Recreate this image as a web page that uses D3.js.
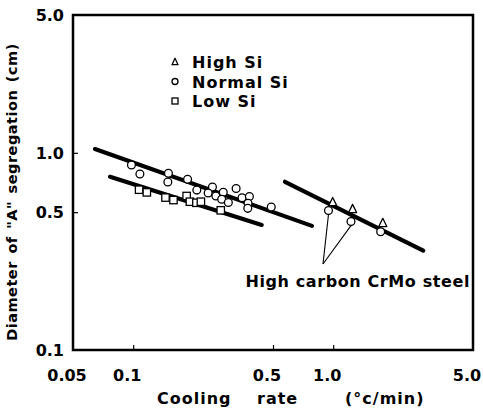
<!DOCTYPE html>
<html>
<head>
<meta charset="utf-8">
<script src="https://cdn.jsdelivr.net/npm/d3@7"></script>
<style>
  html, body { margin: 0; padding: 0; background: #fff; }
  text { font-family: "DejaVu Sans", sans-serif; font-weight: bold; fill: #000; }
</style>
</head>
<body>
<svg id="chart" width="483" height="409"></svg>
<script>
// Cooling rate (°C/min) vs diameter of "A" segregation (cm)
const normalSiX = [0.098, 0.108, 0.150, 0.149, 0.187, 0.208, 0.249, 0.237, 0.259, 0.282, 0.277, 0.299, 0.327, 0.350, 0.381, 0.375, 0.374, 0.49];
const normalSiY = [0.867, 0.781, 0.787, 0.711, 0.735, 0.647, 0.671, 0.625, 0.604, 0.631, 0.581, 0.560, 0.659, 0.592, 0.600, 0.555, 0.523, 0.531];
const lowSiX = [0.107, 0.117, 0.145, 0.159, 0.185, 0.192, 0.207, 0.218, 0.274];
const lowSiY = [0.650, 0.630, 0.593, 0.576, 0.604, 0.565, 0.558, 0.565, 0.511];
// High carbon CrMo steel
const crmoNormalX = [0.947, 1.227, 1.727];
const crmoNormalY = [0.510, 0.448, 0.398];
const crmoHighX = [0.994, 1.25, 1.77];
const crmoHighY = [0.563, 0.519, 0.441];

// Fitted trend lines, start and end points
const normalFitX = [0.0644, 0.783];
const normalFitY = [1.045, 0.426];
const lowFitX = [0.0766, 0.439];
const lowFitY = [0.757, 0.431];
const crmoFitX = [0.574, 2.82];
const crmoFitY = [0.713, 0.319];

const xTicks = [0.1, 0.5, 1.0];
const xTickLabels = ["0.05", "0.1", "0.5", "1.0", "5.0"];
const xTickLabelValues = [0.05, 0.1, 0.5, 1.0, 5.0];
const yTicks = [0.5, 1.0];
const yTickLabels = ["0.1", "0.5", "1.0", "5.0"];
const yTickLabelValues = [0.1, 0.5, 1.0, 5.0];

const legendLabels = ["High Si", "Normal Si", "Low Si"];
const legendShapes = ["triangle", "circle", "square"];

const svg = d3.select("#chart");
const margin = { left: 73, right: 10, top: 15, bottom: 59 };
const W = 483, H = 409;

const x = d3.scaleLog().domain([0.05, 5]).range([margin.left, W - margin.right]);
const y = d3.scaleLog().domain([0.1, 5]).range([H - margin.bottom, margin.top]);

// Frame
svg.append("rect")
  .attr("x", x(0.05)).attr("y", y(5))
  .attr("width", x(5) - x(0.05)).attr("height", y(0.1) - y(5))
  .attr("fill", "none").attr("stroke", "#000").attr("stroke-width", 2.5);

// Inward ticks
const xAxis = d3.axisBottom(x).tickValues(xTicks).tickSize(-5).tickFormat("");
svg.append("g").attr("transform", `translate(0,${y(0.1)})`).call(xAxis)
  .call(g => { g.select(".domain").remove(); g.selectAll("line").attr("stroke-width", 1.2); });
const yAxis = d3.axisLeft(y).tickValues(yTicks).tickSize(-5).tickFormat("");
svg.append("g").attr("transform", `translate(${x(0.05)},0)`).call(yAxis)
  .call(g => { g.select(".domain").remove(); g.selectAll("line").attr("stroke-width", 1.2); });

// Tick labels
svg.selectAll("text.xtl").data(xTickLabelValues).join("text")
  .attr("class", "xtl")
  .attr("x", d => x(d) - 6).attr("y", y(0.1) + 31)
  .attr("text-anchor", "middle").attr("font-size", 16)
  .text((d, i) => xTickLabels[i]);
svg.selectAll("text.ytl").data(yTickLabelValues).join("text")
  .attr("class", "ytl")
  .attr("x", 64).attr("y", d => y(d) + 6)
  .attr("text-anchor", "end").attr("font-size", 16)
  .text((d, i) => yTickLabels[i]);

// Axis titles
const xt = svg.append("text").attr("y", 404).attr("font-size", 16).attr("letter-spacing", 1);
xt.append("tspan").attr("x", 157).text("Cooling");
xt.append("tspan").attr("x", 257).text("rate");
xt.append("tspan").attr("x", 345).text("(°c/min)");

svg.append("text")
  .attr("transform", "translate(17,192) rotate(-90)")
  .attr("text-anchor", "middle").attr("font-size", 14.5).attr("letter-spacing", 0.5)
  .attr("word-spacing", 2)
  .text('Diameter of "A" segregation (cm)');

// Trend lines
const line = d3.line().x(d => x(d[0])).y(d => y(d[1]));
[[normalFitX, normalFitY], [lowFitX, lowFitY], [crmoFitX, crmoFitY]].forEach(([xs, ys]) => {
  svg.append("path")
    .attr("d", line(d3.zip(xs, ys)))
    .attr("fill", "none").attr("stroke", "#000").attr("stroke-width", 4.2)
    .attr("stroke-linecap", "round");
});

// Leader lines for the annotation
const leaderOrigin = [323, 264];
const leaderTargets = [[crmoNormalX[0], crmoNormalY[0]], [crmoNormalX[1], crmoNormalY[1]]];
leaderTargets.forEach(t => {
  svg.append("line")
    .attr("x1", leaderOrigin[0]).attr("y1", leaderOrigin[1])
    .attr("x2", x(t[0])).attr("y2", y(t[1]) + 4)
    .attr("stroke", "#000").attr("stroke-width", 1.1);
});

// Markers
function drawMarker(g, shape, cx, cy, s) {
  if (shape === "circle") {
    g.append("circle").attr("cx", cx).attr("cy", cy).attr("r", s)
      .attr("fill", "#fff").attr("stroke", "#000").attr("stroke-width", 1.3);
  } else if (shape === "square") {
    g.append("rect").attr("x", cx - s).attr("y", cy - s).attr("width", 2 * s).attr("height", 2 * s)
      .attr("fill", "#fff").attr("stroke", "#000").attr("stroke-width", 1.3);
  } else {
    const h = s * 1.8;
    g.append("path")
      .attr("d", `M${cx},${cy - h / 2 - 1}L${cx + s},${cy + h / 2}L${cx - s},${cy + h / 2}Z`)
      .attr("fill", "#fff").attr("stroke", "#000").attr("stroke-width", 1.3)
      .attr("stroke-linejoin", "round");
  }
}
const pts = svg.append("g");
d3.zip(lowSiX, lowSiY).forEach(d => drawMarker(pts, "square", x(d[0]), y(d[1]), 3.7));
d3.zip(normalSiX, normalSiY).forEach(d => drawMarker(pts, "circle", x(d[0]), y(d[1]), 3.9));
d3.zip(crmoHighX, crmoHighY).forEach(d => drawMarker(pts, "triangle", x(d[0]), y(d[1]), 4));
d3.zip(crmoNormalX, crmoNormalY).forEach(d => drawMarker(pts, "circle", x(d[0]), y(d[1]), 3.9));

// Annotation
svg.append("text")
  .attr("x", 470).attr("y", 287).attr("text-anchor", "end")
  .attr("font-size", 16).attr("letter-spacing", 0.6)
  .text("High carbon CrMo steel");

// Legend
const leg = svg.append("g");
legendLabels.forEach((lab, i) => {
  const cy = 62 + i * 19.5;
  drawMarker(leg, legendShapes[i], 175, cy, 3);
  leg.append("text").attr("x", 192).attr("y", cy + 6)
    .attr("font-size", 16).attr("letter-spacing", 1).text(lab);
});
</script>
</body>
</html>
